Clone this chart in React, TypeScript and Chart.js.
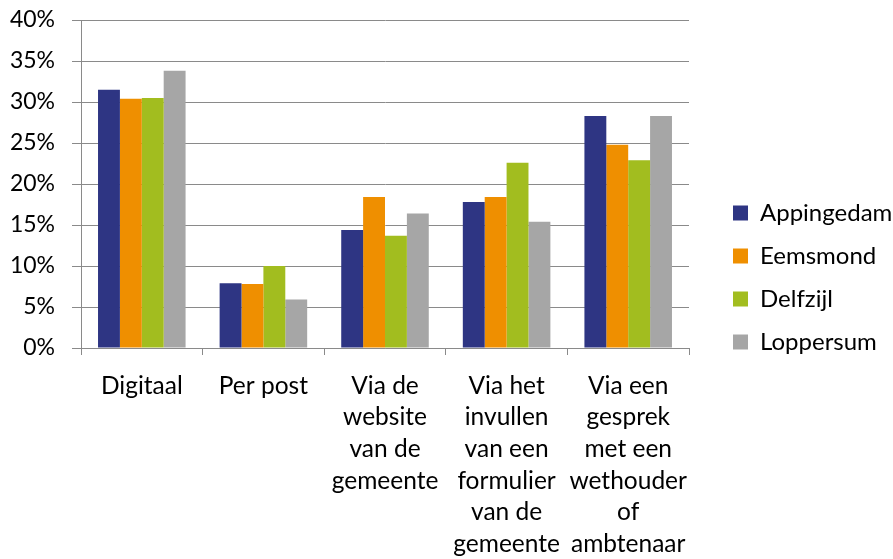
import React, { useEffect, useRef } from 'react';
import { Chart, registerables } from 'chart.js';

Chart.register(...registerables);

const categories: string[][] = [
  ['Digitaal'],
  ['Per post'],
  ['Via de', 'website', 'van de', 'gemeente'],
  ['Via het', 'invullen', 'van een', 'formulier', 'van de', 'gemeente'],
  ['Via een', 'gesprek', 'met een', 'wethouder', 'of', 'ambtenaar'],
];
const seriesNames = ['Appingedam', 'Eemsmond', 'Delfzijl', 'Loppersum'];
const appingedam = [31.5, 7.9, 14.4, 17.8, 28.3];
const eemsmond = [30.4, 7.8, 18.4, 18.4, 24.8];
const delfzijl = [30.5, 10.0, 13.7, 22.6, 22.9];
const loppersum = [33.8, 5.9, 16.4, 15.4, 28.3];
const seriesColors = ['#2E3583', '#EF8F00', '#A2BD1F', '#A6A6A6'];
const yMin = 0;
const yMax = 40;
const yStep = 5;

const FONT = 'Lato';
const GRID = '#8a8a8a';

// legend box width, the x where legend markers start, and the legend's vertical centre
const LEGEND_WIDTH = 204;
const LEGEND_MARKER_X = 733;
const LEGEND_CENTER_Y = 277.5;

const legendPlacement = {
  id: 'legendPlacement',
  beforeLayout(chart: any) {
    const lg = chart.legend;
    if (lg && !lg.__patched) {
      const orig = lg.fit;
      lg.fit = function (this: any) {
        orig.call(this);
        this.width = LEGEND_WIDTH;
      };
      lg.__patched = true;
    }
  },
  afterLayout(chart: any) {
    const lg = chart.legend;
    if (lg) {
      const pad = lg.options.labels.padding;
      lg.left = LEGEND_MARKER_X - pad;
      const h = lg.bottom - lg.top;
      lg.top = LEGEND_CENTER_Y - h / 2;
      lg.bottom = lg.top + h;
    }
  },
};

export default function App() {
  const ref = useRef<HTMLCanvasElement | null>(null);
  useEffect(() => {
    if (!ref.current) return;
    const values = [appingedam, eemsmond, delfzijl, loppersum];
    const chart = new Chart(ref.current, {
      type: 'bar',
      data: {
        labels: categories,
        datasets: values.map((v, i) => ({
          label: seriesNames[i],
          data: v,
          backgroundColor: seriesColors[i],
          borderWidth: 0,
          categoryPercentage: 0.72,
          barPercentage: 1,
        })),
      },
      plugins: [legendPlacement],
      options: {
        animation: false,
        responsive: false,
        devicePixelRatio: 1,
        layout: { padding: { top: 20, right: 0, bottom: 0, left: 0 } },
        plugins: {
          legend: {
            position: 'right',
            align: 'center',
            labels: {
              boxWidth: 15,
              boxHeight: 15,
              padding: 19,
              color: '#000',
              font: { family: FONT, size: 24 },
            },
          },
          tooltip: { enabled: false },
        },
        scales: {
          x: {
            grid: {
              offset: true,
              drawOnChartArea: false,
              drawTicks: true,
              tickLength: 7,
              color: GRID,
            },
            border: { display: true, color: GRID, width: 1 },
            ticks: {
              color: '#000',
              padding: 15,
              maxRotation: 0,
              autoSkip: false,
              font: { family: FONT, size: 24.5, lineHeight: 1.29 },
            },
            afterFit: (s: any) => {
              s.height = 211;
            },
          },
          y: {
            min: yMin,
            max: yMax,
            grid: {
              color: GRID,
              drawTicks: true,
              tickLength: 9,
            },
            border: { display: true, color: GRID, width: 1 },
            ticks: {
              stepSize: yStep,
              color: '#000',
              padding: 17,
              font: { family: FONT, size: 23 },
              callback: (v: any) => v + '%',
            },
            afterFit: (s: any) => {
              s.width = 81;
              s.paddingTop = 0;
              s.paddingBottom = 0;
            },
          },
        },
      },
    });
    return () => chart.destroy();
  }, []);
  return (
    <div style={{ position: 'fixed', left: 0, top: 0, width: 893, height: 559, background: '#fff' }}>
      <canvas ref={ref} width={893} height={559} style={{ width: 893, height: 559, display: 'block' }} />
    </div>
  );
}
